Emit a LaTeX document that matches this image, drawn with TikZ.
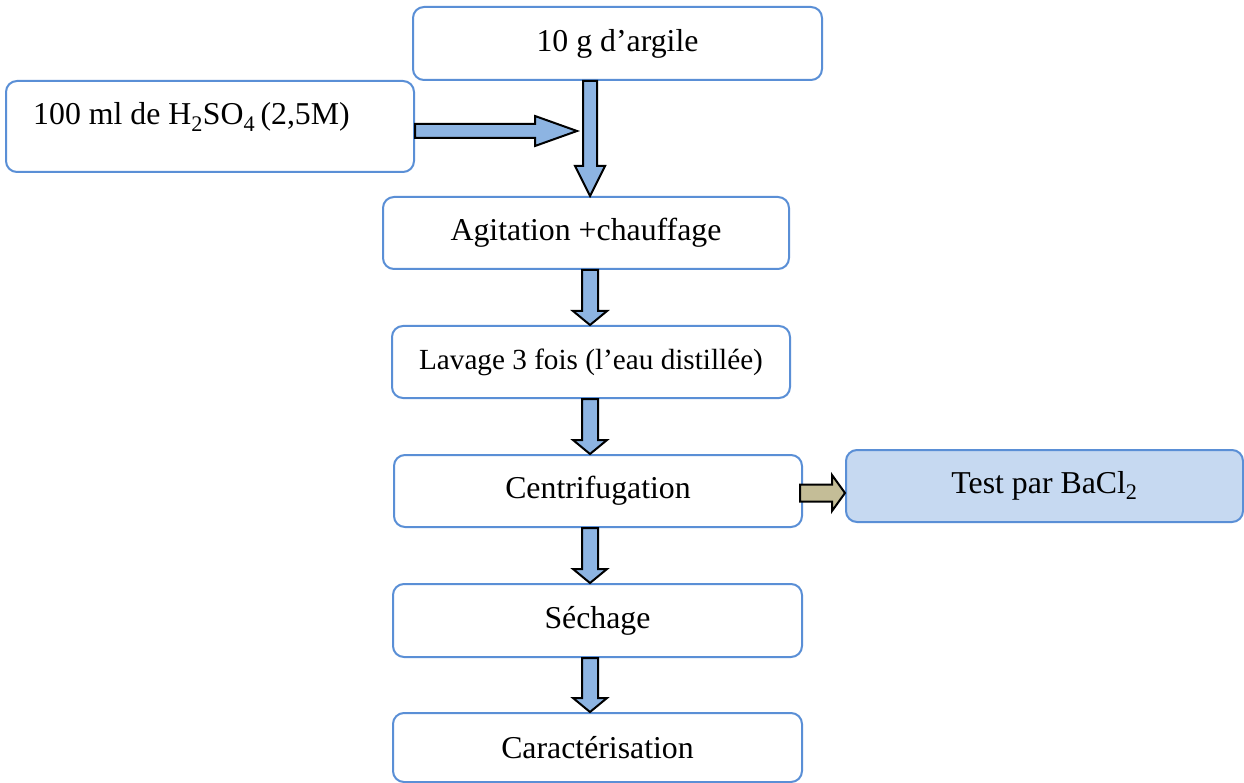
\documentclass[tikz,border=0pt]{standalone}
\usepackage{fontspec}
\setmainfont{Liberation Serif}
\usetikzlibrary{calc}
\definecolor{boxline}{HTML}{5A8FD6}
\definecolor{arrfill}{HTML}{8DB4E2}
\definecolor{testfill}{HTML}{C6D9F1}
\definecolor{tan}{HTML}{C4BD97}
\tikzset{
  stepbox/.style={draw=boxline, line width=2pt, rounded corners=11pt, fill=white,
    inner sep=0pt, font=\fontsize{31.8}{38}\selectfont},
  varr/.style={draw=black, line width=2pt, fill=arrfill, line join=miter},
  harr/.style={draw=black, line width=2pt, fill=arrfill, line join=miter},
  tarr/.style={draw=black, line width=2pt, fill=tan, line join=miter},
}
% vertical block arrow: #1 start, #2 tip, #3 shaft half width, #4 head half width, #5 head length, #6 style
\newcommand{\vblock}[6]{%
  \draw[#6] ($(#1)+(-#3,0)$) -- ($(#2)+(-#3,-#5)$) -- ($(#2)+(-#4,-#5)$) -- (#2)
     -- ($(#2)+(#4,-#5)$) -- ($(#2)+(#3,-#5)$) -- ($(#1)+(#3,0)$) -- cycle;}
% horizontal block arrow
\newcommand{\hblock}[6]{%
  \draw[#6] ($(#1)+(0,-#3)$) -- ($(#2)+(-#5,-#3)$) -- ($(#2)+(-#5,-#4)$) -- (#2)
     -- ($(#2)+(-#5,#4)$) -- ($(#2)+(-#5,#3)$) -- ($(#1)+(0,#3)$) -- cycle;}
\begin{document}
\begin{tikzpicture}[x=1pt,y=-1pt]
\useasboundingbox (0,0) rectangle (1244,783);
\fill[white] (0,0) rectangle (1244,783);

\node[stepbox, minimum width=409pt, minimum height=73pt] (b1) at (617.5,43.5) {10 g d’argile};
\node[stepbox, minimum width=408pt, minimum height=91pt] (b2) at (210,126.5) {};
\node[anchor=base west, inner sep=0pt, font=\fontsize{31.8}{38}\selectfont] (t2) at (33,125)
  {100 ml de H\textsubscript{2}SO\textsubscript{4}\,(2,5M)};
\node[stepbox, minimum width=406pt, minimum height=72pt] (b3) at (586,233) {Agitation +chauffage};
\node[stepbox, minimum width=398pt, minimum height=72pt, font=\fontsize{29.2}{35}\selectfont] (b4) at (591,362) {Lavage 3 fois (l’eau distillée)};
\node[stepbox, minimum width=408pt, minimum height=72pt] (b5) at (598,491) {Centrifugation};
\node[stepbox, fill=testfill, minimum width=397pt, minimum height=72pt] (b6) at (1044.5,486) {Test par BaCl\textsubscript{2}};
\node[stepbox, minimum width=409pt, minimum height=73pt] (b7) at (597.5,620.5) {Séchage};
\node[stepbox, minimum width=409pt, minimum height=69pt] (b8) at (597.5,747.5) {Caractérisation};

\coordinate (col) at (590,0);
\coordinate (s1) at (b1.south -| col);
\coordinate (e1) at (b3.north -| col);
\vblock{s1}{e1}{7}{15}{30}{varr}

\coordinate (hrow) at (0,131);
\coordinate (hs) at (b2.east |- hrow);
\coordinate (he) at (577,131);
\hblock{hs}{he}{7}{15}{42}{harr}

\coordinate (s2) at (b3.south -| col);
\coordinate (e2) at (b4.north -| col);
\vblock{s2}{e2}{8}{17}{14}{varr}

\coordinate (s3) at (b4.south -| col);
\coordinate (e3) at (b5.north -| col);
\vblock{s3}{e3}{8}{17}{14}{varr}

\coordinate (s4) at (b5.south -| col);
\coordinate (e4) at (b7.north -| col);
\vblock{s4}{e4}{8}{17}{14}{varr}

\coordinate (s5) at (b7.south -| col);
\coordinate (e5) at (b8.north -| col);
\vblock{s5}{e5}{8}{17}{14}{varr}

\coordinate (trow) at (0,493);
\coordinate (ts) at ($(b5.east |- trow)+(-3,0)$);
\coordinate (te) at (b6.west |- trow);
\hblock{ts}{te}{8.5}{18}{13}{tarr}
\end{tikzpicture}
\end{document}
